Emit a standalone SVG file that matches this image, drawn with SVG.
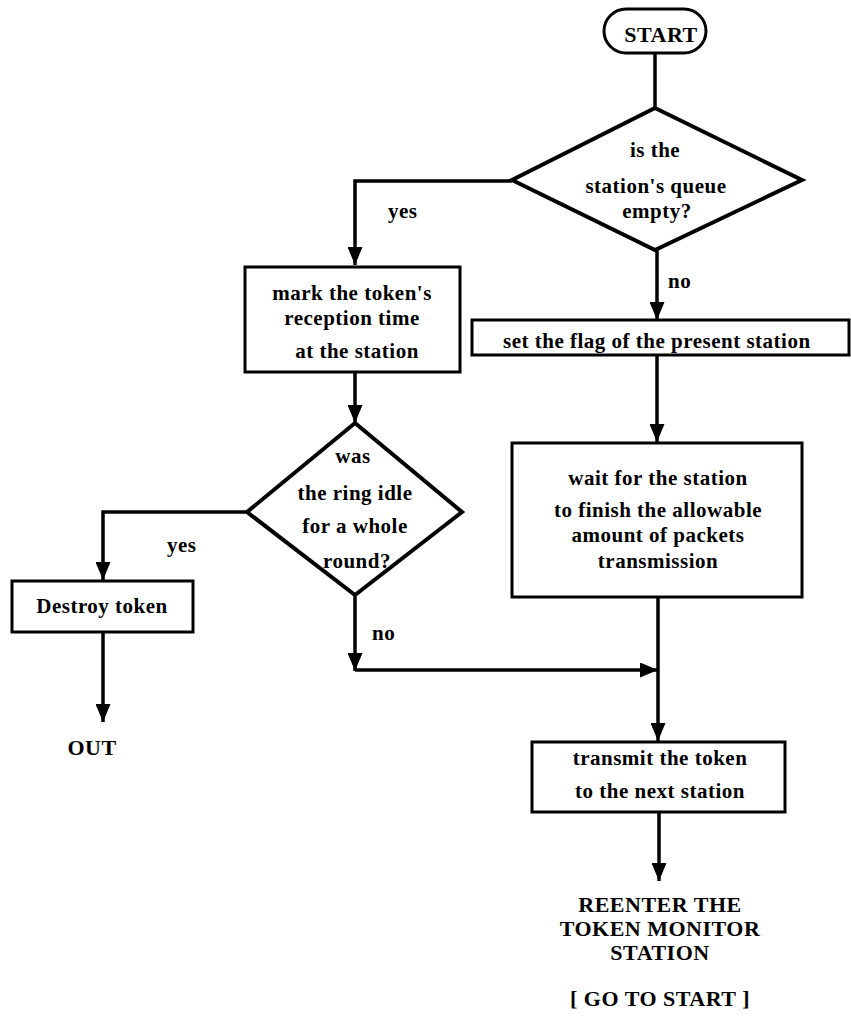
<svg xmlns="http://www.w3.org/2000/svg" width="851" height="1017" viewBox="0 0 851 1017">
  <style>
    .shape { fill: #fff; stroke: #000; stroke-width: 3; }
    .diam { fill: #fff; stroke: #000; stroke-width: 4; stroke-linejoin: miter; }
    .wire { fill: none; stroke: #000; stroke-width: 3.5; }
    text { font-family: "Liberation Serif", "Times New Roman", serif; font-weight: bold; font-size: 21px; letter-spacing: 0.5px; fill: #000; text-anchor: middle; }
    .caps { font-size: 22px; }
    .lbl { text-anchor: start; }
  </style>
  <defs>
    <marker id="arrow" viewBox="0 0 18 15" refX="18" refY="7.5" markerWidth="18" markerHeight="15" markerUnits="userSpaceOnUse" orient="auto">
      <path d="M0,0 L18,7.5 L0,15 z" fill="#000"/>
    </marker>
  </defs>

  <rect width="851" height="1017" fill="#fff"/>

  <!-- connectors -->
  <g id="connectors">
    <line class="wire" x1="655" y1="53" x2="655" y2="108"/>
    <polyline class="wire" points="512,181 355,181 355,265" marker-end="url(#arrow)"/>
    <line class="wire" x1="657" y1="250" x2="657" y2="320" marker-end="url(#arrow)"/>
    <line class="wire" x1="355" y1="372" x2="355" y2="423" marker-end="url(#arrow)"/>
    <line class="wire" x1="657" y1="355" x2="657" y2="442" marker-end="url(#arrow)"/>
    <polyline class="wire" points="247,512 103,512 103,580" marker-end="url(#arrow)"/>
    <line class="wire" x1="103" y1="632" x2="103" y2="722" marker-end="url(#arrow)"/>
    <line class="wire" x1="355" y1="595" x2="355" y2="671" marker-end="url(#arrow)"/>
    <line class="wire" x1="355" y1="670" x2="658" y2="670" marker-end="url(#arrow)"/>
    <line class="wire" x1="658" y1="597" x2="658" y2="741" marker-end="url(#arrow)"/>
    <line class="wire" x1="659" y1="812" x2="659" y2="881" marker-end="url(#arrow)"/>
    <text class="lbl" x="388" y="218">yes</text>
    <text class="lbl" x="668" y="288">no</text>
    <text class="lbl" x="167" y="552">yes</text>
    <text class="lbl" x="372" y="640">no</text>
  </g>

  <g id="start">
    <rect class="shape" x="604" y="9" width="102" height="44" rx="22"/>
    <text class="caps" x="661" y="42">START</text>
  </g>

  <g id="queue-empty">
    <polygon class="diam" points="655,108 802,180 655,250 512,180"/>
    <text x="655" y="157">is the</text>
    <text x="656" y="193">station's queue</text>
    <text x="657" y="218">empty?</text>
  </g>

  <g id="mark-time">
    <rect class="shape" x="245" y="267" width="215" height="105"/>
    <text x="352" y="300">mark the token's</text>
    <text x="352" y="325">reception time</text>
    <text x="357" y="358">at the station</text>
  </g>

  <g id="set-flag">
    <rect class="shape" x="472" y="320" width="377" height="35"/>
    <text class="lbl" x="503" y="348">set the flag of the present station</text>
  </g>

  <g id="ring-idle">
    <polygon class="diam" points="355,423 462,512 355,595 247,512"/>
    <text x="353" y="463">was</text>
    <text x="355" y="500">the ring idle</text>
    <text x="355" y="533">for a whole</text>
    <text x="357" y="568">round?</text>
  </g>

  <g id="wait">
    <rect class="shape" x="512" y="443" width="290" height="154"/>
    <text x="658" y="485">wait for the station</text>
    <text x="658" y="517">to finish the allowable</text>
    <text x="658" y="542">amount of packets</text>
    <text x="658" y="568">transmission</text>
  </g>

  <g id="destroy">
    <rect class="shape" x="12" y="581" width="181" height="51"/>
    <text x="102" y="613">Destroy token</text>
  </g>

  <g id="out">
    <text class="caps" x="92" y="755">OUT</text>
  </g>

  <g id="transmit">
    <rect class="shape" x="532" y="742" width="253" height="70"/>
    <text x="660" y="765">transmit the token</text>
    <text x="660" y="798">to the next station</text>
  </g>

  <g id="reenter">
    <text class="caps" x="660" y="912">REENTER THE</text>
    <text class="caps" x="660" y="936">TOKEN MONITOR</text>
    <text class="caps" x="660" y="960">STATION</text>
    <text class="caps" x="660" y="1006">[ GO TO START ]</text>
  </g>
</svg>
